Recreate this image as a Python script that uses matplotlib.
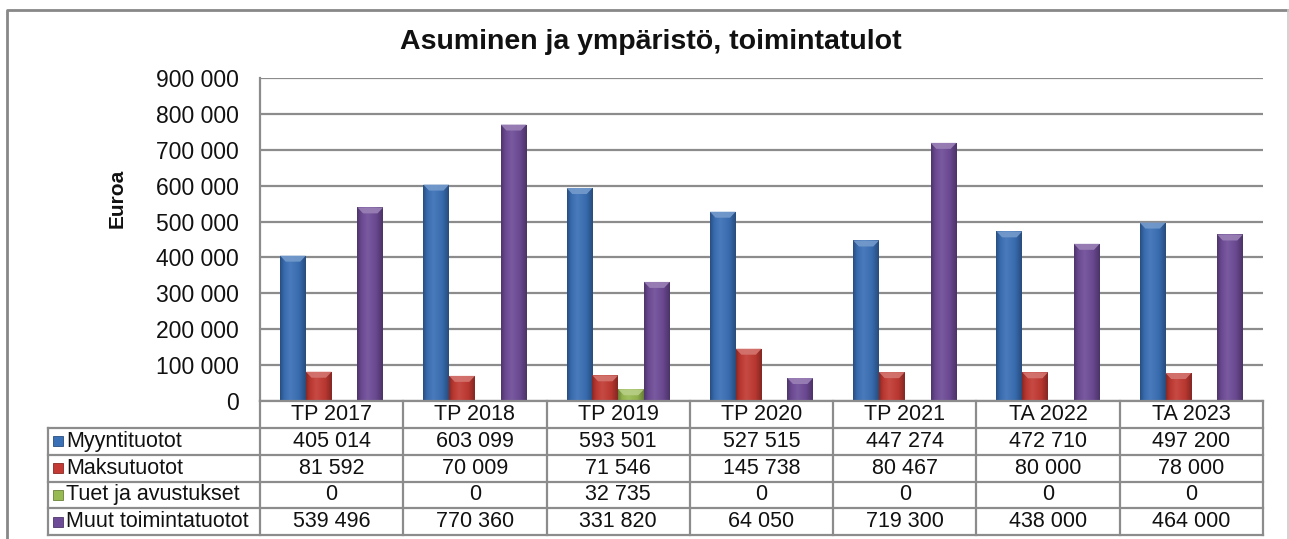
import numpy as np
import matplotlib
matplotlib.use("Agg")
import matplotlib.pyplot as plt
from matplotlib.colors import LinearSegmentedColormap, to_rgb
from matplotlib.patches import Rectangle, Polygon
from matplotlib.lines import Line2D
from matplotlib.ticker import FuncFormatter
import matplotlib.transforms as mtrans

plt.rcParams['font.family'] = ['Liberation Sans', 'DejaVu Sans']

title = "Asuminen ja ympäristö, toimintatulot"
ylabel = "Euroa"
categories = ["TP 2017", "TP 2018", "TP 2019", "TP 2020", "TP 2021", "TA 2022", "TA 2023"]
series_names = ["Myyntituotot", "Maksutuotot", "Tuet ja avustukset", "Muut toimintatuotot"]
myyntituotot = [405014, 603099, 593501, 527515, 447274, 472710, 497200]
maksutuotot = [81592, 70009, 71546, 145738, 80467, 80000, 78000]
tuet = [0, 0, 32735, 0, 0, 0, 0]
muut = [539496, 770360, 331820, 64050, 719300, 438000, 464000]
series_values = [myyntituotot, maksutuotot, tuet, muut]
colors = ["#3A70B6", "#C23A33", "#98BA52", "#6E4B97"]
yticks = list(range(0, 900001, 100000))

W, H = 1289, 539
fig = plt.figure(figsize=(W / 100, H / 100), dpi=100)

def fx(px):
    return px / W

def fy(py):
    return 1 - py / H

ax_left, ax_right, ax_top, ax_bottom = 260, 1263, 78, 401
ax = fig.add_axes([fx(ax_left), fy(ax_bottom), fx(ax_right - ax_left), fy(ax_top) - fy(ax_bottom)])
ax.set_xlim(-0.5, len(categories) - 0.5)
ax.set_ylim(0, 900000)
ax.set_yticks(yticks)
ax.yaxis.set_major_formatter(FuncFormatter(lambda v, p: f"{int(v):,}".replace(",", " ")))
ax.tick_params(axis='y', length=0, pad=15.5, labelsize=16.5, labelcolor="#111111")
ax.set_xticks([])
ax.grid(axis='y', color="#8C8C8C", lw=1.6)
ax.set_axisbelow(True)
for s in ["top", "right", "bottom"]:
    ax.spines[s].set_visible(False)
ax.spines["left"].set_color("#8C8C8C")
ax.spines["left"].set_linewidth(1.6)

def shade(c, f):
    r = np.array(to_rgb(c))
    if f < 1:
        return tuple(r * f)
    return tuple(r + (1 - r) * (f - 1))

n = len(series_values)
bw = 0.18
x = np.arange(len(categories))
for i, (vals, c) in enumerate(zip(series_values, colors)):
    off = (i - (n - 1) / 2) * bw
    bars = ax.bar(x + off, vals, width=bw, color=c, edgecolor="none", zorder=3)
    cmap = LinearSegmentedColormap.from_list(
        f"g{i}", [(0, shade(c, 0.7)), (0.15, shade(c, 0.95)), (0.4, shade(c, 1.08)),
                  (0.75, shade(c, 0.95)), (1, shade(c, 0.68))])
    grad = np.linspace(0, 1, 64).reshape(1, -1)
    for b in bars:
        h = b.get_height()
        if h <= 0:
            continue
        x0 = b.get_x()
        w = b.get_width()
        im = ax.imshow(grad, cmap=cmap, extent=[x0, x0 + w, 0, h], aspect='auto',
                       zorder=3.5, interpolation='bilinear')
        im.set_clip_path(b)
        bev_px = 6
        dy = bev_px / (ax.get_window_extent().height) * 900000
        dx = w * 0.22
        bev = Polygon([[x0, h], [x0 + w, h], [x0 + w - dx, h - min(dy, h)], [x0 + dx, h - min(dy, h)]],
                      closed=True, facecolor=shade(c, 1.3), edgecolor="none", zorder=4, alpha=0.9)
        ax.add_patch(bev)
ax.set_xlim(-0.5, len(categories) - 0.5)
ax.set_ylim(0, 900000)

# title and y label
fig.text(fx(651), fy(42), title, ha='center', va='center', fontsize=20.5, fontweight='bold', color="#111111")
fig.text(fx(117), fy(198), ylabel, ha='center', va='center', rotation=90, fontsize=15,
         fontweight='bold', color="#111111")

# data table
rows_y = [401, 428, 454.5, 481.5, 508, 535]
label_left = 48
lc = "#8C8C8C"
lw = 1.6
bt = mtrans.blended_transform_factory(ax.transData, fig.transFigure)
edges = np.arange(len(categories) + 1) - 0.5
for j, yy in enumerate(rows_y):
    fig.add_artist(Line2D([fx(ax_left if j == 0 else label_left), fx(ax_right)], [fy(yy), fy(yy)],
                          color=lc, lw=lw, transform=fig.transFigure))
for e in edges:
    fig.add_artist(Line2D([e, e], [fy(rows_y[0]), fy(rows_y[-1])], color=lc, lw=lw, transform=bt))
fig.add_artist(Line2D([fx(label_left)] * 2, [fy(rows_y[1]), fy(rows_y[-1])], color=lc, lw=lw,
                      transform=fig.transFigure))

for k, cat in enumerate(categories):
    fig.text(k, fy((rows_y[0] + rows_y[1]) / 2), cat, transform=bt, ha='center', va='center',
             fontsize=15.5, color="#111111")
for r, (name, vals, c) in enumerate(zip(series_names, series_values, colors)):
    yc = (rows_y[r + 1] + rows_y[r + 2]) / 2
    fig.add_artist(Rectangle((fx(53), fy(yc + 5)), fx(10), fy(yc - 5) - fy(yc + 5), facecolor=c,
                             edgecolor=shade(c, 0.7), lw=0.6, transform=fig.transFigure))
    fig.text(fx(66), fy(yc), name, ha='left', va='center', fontsize=15.5, color="#111111")
    for k, v in enumerate(vals):
        fig.text(k, fy(yc), f"{v:,}".replace(",", " "), transform=bt, ha='center', va='center',
                 fontsize=15.5, color="#111111")

# outer chart border
fig.add_artist(Line2D([fx(7), fx(7), fx(1287)], [fy(545), fy(10), fy(10)],
                      color="#888888", lw=2, transform=fig.transFigure))
fig.add_artist(Line2D([fx(1287.5), fx(1287.5)], [fy(10), fy(545)],
                      color="#CCCCCC", lw=1.2, transform=fig.transFigure))

fig.savefig("out.png", dpi=100)
